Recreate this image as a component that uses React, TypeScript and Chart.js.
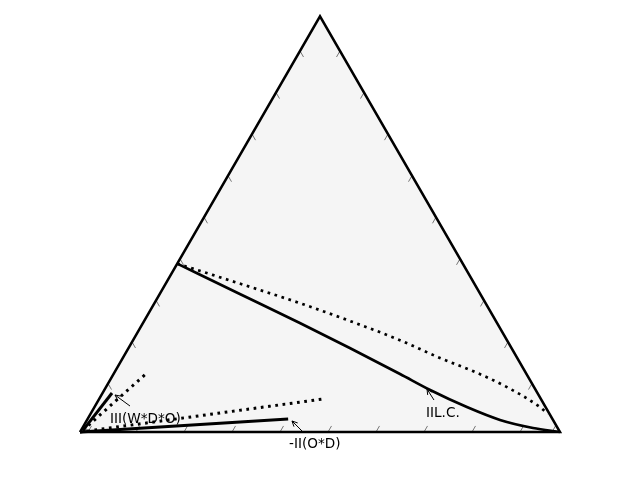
import React, { useEffect, useRef } from "react";
import Chart from "chart.js/auto";

// Ternary data: each point given as (b, c) fractions; a = 1 - b - c.
// Cartesian: x = b + c/2, y = c * sqrt(3)/2
const triangleB = [0, 1, 0, 0];
const triangleC = [0, 0, 1, 0];

// IIL.C. boundary (solid)
const ilcB = [0, 0.167, 0.327, 0.461, 0.597, 0.679, 0.776, 0.8605, 0.939, 1];
const ilcC = [0.405, 0.332, 0.262, 0.202, 0.1395, 0.101, 0.06, 0.029, 0.0096, 0];

// IIL.C. boundary (dotted)
const ilcDotB = [0, 0.18, 0.303, 0.429, 0.556, 0.661, 0.745, 0.8355, 0.928, 0.953];
const ilcDotC = [0.405, 0.349, 0.31, 0.267, 0.221, 0.178, 0.1467, 0.108, 0.06, 0.0433];

// -II(O*D) region boundaries
const twoPhaseB = [0, 0.418];
const twoPhaseC = [0, 0.0313];
const twoPhaseDotB = [0, 0.4666];
const twoPhaseDotC = [0, 0.0794];

// III(W*D*O) region boundaries
const threePhaseB = [0.004, 0.0198];
const threePhaseC = [0.004, 0.0938];
const threePhaseDotB = [0.004, 0.0695];
const threePhaseDotC = [0.004, 0.1443];

// Edge ticks (fractions along each edge)
const tickValues = [0, 0.1, 0.2, 0.3, 0.4, 0.5, 0.6, 0.7, 0.8, 0.9];

// Annotations: label, arrow tip (b, c)
const annLabels = ["IIL.C.", "III(W*D*O)", "-II(O*D)"];
const annTipB = [0.6712, 0.0284, 0.4284];
const annTipC = [0.1034, 0.089, 0.0265];
// layout offsets (pixels) relative to tip: arrow tail and text left/baseline
const annTail = [[7, 11], [15, 11], [10, 10]];
const annText = [[-1, 28], [-5, 28], [-3, 27]];

const S3 = Math.sqrt(3) / 2;
const toXY = (b: number, c: number) => ({ x: b + c / 2, y: c * S3 });
const series = (B: number[], C: number[]) => B.map((b, i) => toXY(b, C[i]));

export default function App() {
  const ref = useRef<HTMLCanvasElement | null>(null);

  useEffect(() => {
    if (!ref.current) return;

    const bgPlugin = {
      id: "ternaryBg",
      beforeDatasetsDraw(chart: any) {
        const { ctx, scales } = chart;
        const px = (p: { x: number; y: number }) => [
          scales.x.getPixelForValue(p.x),
          scales.y.getPixelForValue(p.y),
        ];
        const tri = series(triangleB, triangleC);
        ctx.save();
        ctx.beginPath();
        tri.forEach((p, i) => {
          const [X, Y] = px(p);
          if (i === 0) ctx.moveTo(X, Y);
          else ctx.lineTo(X, Y);
        });
        ctx.closePath();
        ctx.fillStyle = "#f5f5f5";
        ctx.fill();

        // ticks
        ctx.strokeStyle = "#555";
        ctx.lineWidth = 0.8;
        const L = 7;
        const off = 8;
        const up = [0.5, -S3];
        const down = [0.5, S3];
        const downLeft = [-0.5, S3];
        const upLeft = [-0.5, -S3];
        tickValues.forEach((v) => {
          // bottom edge
          let [X, Y] = px(toXY(v, 0));
          X += off;
          ctx.beginPath();
          ctx.moveTo(X, Y);
          ctx.lineTo(X + up[0] * L, Y + up[1] * L);
          ctx.stroke();
          // left edge
          [X, Y] = px(toXY(0, v));
          X += up[0] * off;
          Y += up[1] * off;
          ctx.beginPath();
          ctx.moveTo(X, Y);
          ctx.lineTo(X + down[0] * L, Y + down[1] * L);
          ctx.stroke();
          // right edge
          [X, Y] = px(toXY(1 - v, v));
          X += upLeft[0] * off;
          Y += upLeft[1] * off;
          ctx.beginPath();
          ctx.moveTo(X, Y);
          ctx.lineTo(X + downLeft[0] * L, Y + downLeft[1] * L);
          ctx.stroke();
        });
        ctx.restore();
      },
      afterDatasetsDraw(chart: any) {
        const { ctx, scales } = chart;
        ctx.save();
        ctx.font = '13.6px "DejaVu Sans"';
        ctx.fillStyle = "#000";
        ctx.strokeStyle = "#000";
        ctx.lineWidth = 1;
        ctx.textBaseline = "alphabetic";
        ctx.textAlign = "left";
        annLabels.forEach((lab, i) => {
          const p = toXY(annTipB[i], annTipC[i]);
          const tx = scales.x.getPixelForValue(p.x);
          const ty = scales.y.getPixelForValue(p.y);
          const sx = tx + annTail[i][0];
          const sy = ty + annTail[i][1];
          ctx.beginPath();
          ctx.moveTo(sx, sy);
          ctx.lineTo(tx, ty);
          ctx.stroke();
          const ang = Math.atan2(ty - sy, tx - sx);
          const hl = 6;
          const ha = 0.45;
          ctx.beginPath();
          ctx.moveTo(tx - hl * Math.cos(ang - ha), ty - hl * Math.sin(ang - ha));
          ctx.lineTo(tx, ty);
          ctx.lineTo(tx - hl * Math.cos(ang + ha), ty - hl * Math.sin(ang + ha));
          ctx.stroke();
          ctx.fillText(lab, tx + annText[i][0], ty + annText[i][1]);
        });
        ctx.restore();
      },
    };

    const solid = (data: any[], width = 2.7) => ({
      data,
      showLine: true,
      borderColor: "#000",
      borderWidth: width,
      pointRadius: 0,
      fill: false,
      cubicInterpolationMode: "monotone" as const,
    });
    const dotted = (data: any[], width = 2.7) => ({
      ...solid(data, width),
      borderDash: [2.7, 4.6],
    });

    const chart = new Chart(ref.current, {
      type: "scatter",
      data: {
        datasets: [
          {
            ...solid(series(triangleB, triangleC), 2.5),
            cubicInterpolationMode: "default" as const,
            borderJoinStyle: "miter" as const,
          },
          solid(series(ilcB, ilcC)),
          dotted(series(ilcDotB, ilcDotC)),
          solid(series(twoPhaseB, twoPhaseC), 3),
          dotted(series(twoPhaseDotB, twoPhaseDotC), 3),
          solid(series(threePhaseB, threePhaseC), 3),
          dotted(series(threePhaseDotB, threePhaseDotC), 3),
        ],
      },
      options: {
        animation: false,
        responsive: false,
        maintainAspectRatio: false,
        layout: { padding: 0 },
        plugins: { legend: { display: false }, tooltip: { enabled: false } },
        scales: {
          x: { type: "linear", min: -1 / 6, max: 7 / 6, display: false },
          y: { type: "linear", min: -0.1, max: 0.9, display: false },
        },
        elements: { line: { tension: 0 } },
      },
      plugins: [bgPlugin],
    });
    return () => chart.destroy();
  }, []);

  return (
    <div style={{ position: "fixed", left: 0, top: 0, width: 640, height: 480, background: "#fff" }}>
      <canvas ref={ref} width={640} height={480} style={{ display: "block" }} />
    </div>
  );
}
